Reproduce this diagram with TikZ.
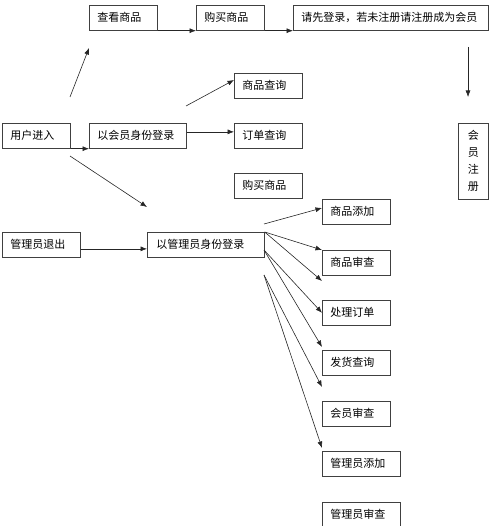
\documentclass[tikz,border=0pt]{standalone}
\usepackage{fontspec}
\newfontfamily\cjk{Noto Sans CJK SC}
\usetikzlibrary{arrows.meta,calc}
\begin{document}
\begin{tikzpicture}[x=1pt,y=-1pt,
  box/.style={draw=black!75,line width=0.7pt,anchor=north west,minimum height=25pt,
    inner xsep=8pt,inner ysep=0pt,text height=9pt,text depth=1.5pt,
    font=\cjk\fontsize{11}{12}\selectfont,align=left},
  w68/.style={text width=52pt},
  vbox/.style={draw=black!75,line width=0.7pt,anchor=north west,minimum width=30pt,
    minimum height=76pt,inner sep=0pt,align=center,
    font=\cjk\fontsize{11}{17}\selectfont},
  arr/.style={-{Latex[length=6.5pt,width=5pt]},line width=0.6pt,draw=black!85}]
\useasboundingbox (0,0) rectangle (490,526);
% top row
\node[box,w68] (view) at (89,5) {查看商品};
\node[box,w68] (buy1) at (196,5) {购买商品};
\node[box,text width=179pt] (login) at (293,5) {请先登录，若未注册请注册成为会员};
\node[vbox] (reg) at (458,123) {会\\员\\注\\册};
% member branch
\node[box,w68] (user) at (2,123) {用户进入};
\node[box,text width=81pt] (mem) at (89,123) {以会员身份登录};
\node[box,w68] (q1) at (234,73) {商品查询};
\node[box,w68] (q2) at (234,123) {订单查询};
\node[box,w68] (q3) at (234,173) {购买商品};
% admin branch
\node[box,text width=62pt] (exit) at (2,232) {管理员退出};
\node[box,text width=99pt,inner xsep=9pt] (adm) at (147,232) {以管理员身份登录};
\node[box,w68] (a1) at (322,199) {商品添加};
\node[box,w68] (a2) at (322,250) {商品审查};
\node[box,w68] (a3) at (322,300) {处理订单};
\node[box,w68] (a4) at (322,350) {发货查询};
\node[box,w68] (a5) at (322,401) {会员审查};
\node[box,text width=62pt] (a6) at (322,451) {管理员添加};
\node[box,text width=62pt] (a7) at (322,502) {管理员审查};
% free ends
\coordinate (d1) at (468,47);
\coordinate (d2) at (468,97);
\coordinate (u1) at (70,97);
\coordinate (u2) at (89,48);
\coordinate (m1) at (186,106);
\coordinate (m2) at (234,80);
\coordinate (u3) at (70,156);
\coordinate (u4) at (147,207);
\coordinate (s1) at (264,224);
\coordinate (e1) at (322,208);
\coordinate (s2) at (264,250);
\coordinate (s3) at (264,275);
\coordinate (e3) at (322,281);
\coordinate (e5) at (322,347);
\coordinate (e6) at (322,387);
\coordinate (e7) at (322,448);
% connectors
\draw[arr] (view.south east) -- (buy1.south west);
\draw[arr] (buy1.south east) -- (login.south west);
\draw[arr] (d1) -- (d2);
\draw[arr] (user.south east) -- (mem.south west);
\draw[arr] (u1) -- (u2);
\draw[arr] (m1) -- (m2);
\draw[arr] ($(mem.east)+(0,-4)$) -- ($(q2.west)+(0,-4)$);
\draw[arr] (u3) -- (u4);
\draw[arr] ($(exit.east)+(0,4)$) -- ($(adm.west)+(0,4)$);
\draw[arr] (s1) -- (e1);
\draw[arr] (adm.north east) -- (a2.north west);
\draw[arr] (adm.north east) -- (e3);
\draw[arr] (s2) -- (a3.west);
\draw[arr] (s2) -- (e5);
\draw[arr] (s3) -- (e6);
\draw[arr] (s3) -- (e7);
\end{tikzpicture}
\end{document}
